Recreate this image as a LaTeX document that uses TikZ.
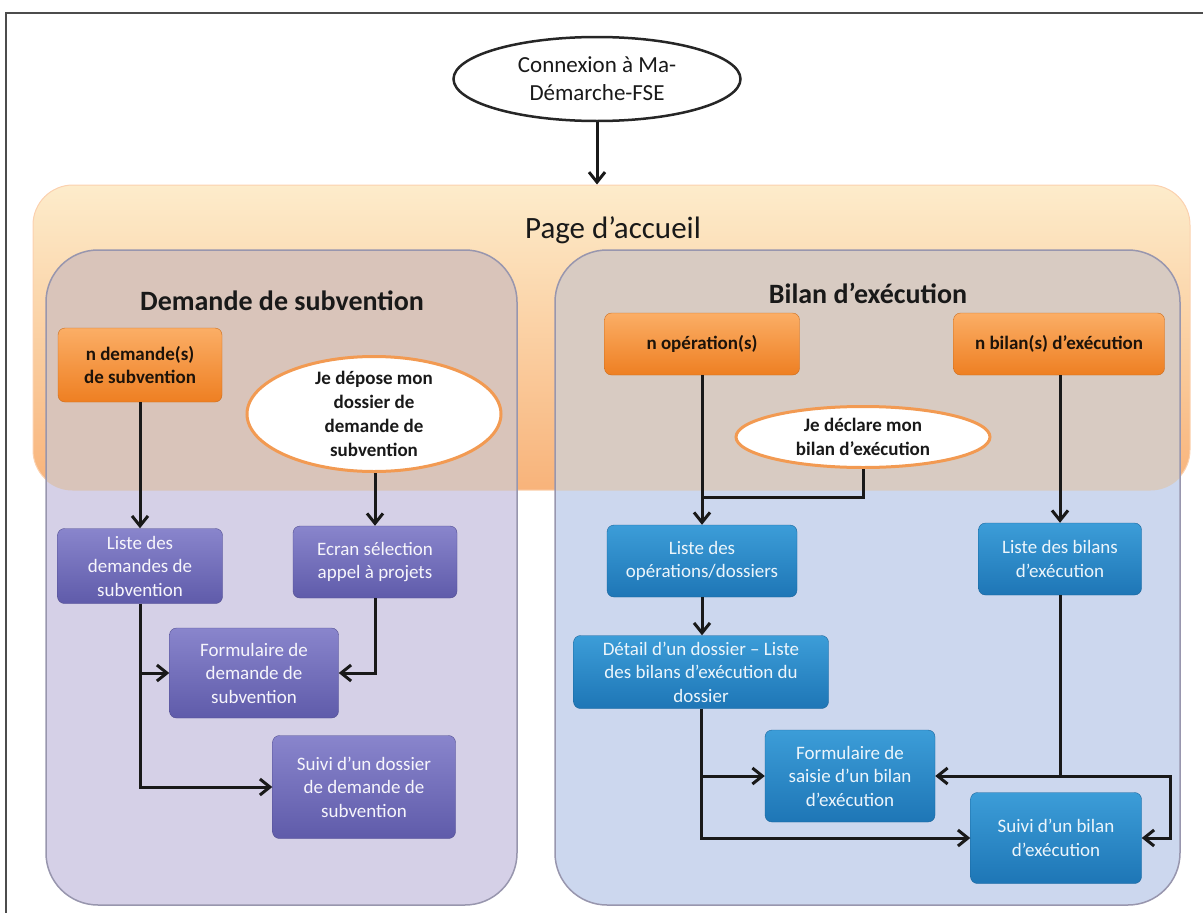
\documentclass[tikz,border=0pt]{standalone}
\usepackage{fontspec}
\setmainfont{Carlito}
\usetikzlibrary{shapes.geometric,arrows.meta}
\definecolor{accTop}{HTML}{FDECCB}
\definecolor{accBot}{HTML}{F8B37A}
\definecolor{demLow}{HTML}{D5D0E7}
\definecolor{demMix}{HTML}{D9C4BA}
\definecolor{bilLow}{HTML}{CCD7EE}
\definecolor{bilMix}{HTML}{D8CBC2}
\definecolor{orTop}{HTML}{FBAE66}
\definecolor{orBot}{HTML}{EE7F22}
\definecolor{puTop}{HTML}{8985CC}
\definecolor{puBot}{HTML}{5F5BAA}
\definecolor{blTop}{HTML}{3C9DD8}
\definecolor{blBot}{HTML}{1E76B6}
\definecolor{ovalLine}{HTML}{F29A52}
\definecolor{panelLine}{HTML}{9896AE}

\begin{document}
\begin{tikzpicture}[x=1pt,y=-1pt,
    box/.style={rectangle,rounded corners=7pt,align=center,inner sep=2pt,
      font=\fontsize{19pt}{23.5pt}\selectfont},
    orangebox/.style={box,top color=orTop,bottom color=orBot,draw=orBot!85!black,
      text=black!85!brown,font=\bfseries\fontsize{19pt}{23.5pt}\selectfont},
    purplebox/.style={box,top color=puTop,bottom color=puBot,draw=puBot!85!black,
      text=white!92!puTop},
    bluebox/.style={box,top color=blTop,bottom color=blBot,draw=blBot!85!black,
      text=white!90!blTop},
    whiteoval/.style={ellipse,fill=white,draw=ovalLine,line width=3pt,inner sep=0pt},
    ovaltext/.style={align=center,text=black!90,font=\bfseries\fontsize{19pt}{24pt}\selectfont},
    startoval/.style={ellipse,fill=white,draw=black!85,line width=2.5pt,inner sep=0pt},
    starttext/.style={align=center,text=black!90,font=\fontsize{23pt}{28pt}\selectfont},
    accueilbox/.style={rectangle,rounded corners=40pt,top color=accTop,bottom color=accBot,
      draw=accBot!60!white,line width=1pt},
    paneledge/.style={draw=panelLine,line width=1.5pt,rounded corners=52pt},
    title/.style={anchor=base,text=black!90,font=\bfseries\fontsize{28pt}{32pt}\selectfont},
    link/.style={draw=black!90,line width=3pt},
    flow/.style={link,-{Straight Barb[length=10pt,width=16pt]}}]
    \useasboundingbox (0,0) rectangle (1203,913);
    \draw[black!70,line width=1.5pt] (6,913) -- (6,13) -- (1203,13);

    \node[accueilbox,minimum width=1157pt,minimum height=305pt] (accueil) at (611.5,337.5) {};
    \fill[demLow,rounded corners=52pt] (46,250) rectangle (517,905);
    \fill[bilLow,rounded corners=52pt] (555,250) rectangle (1180,905);
    \begin{scope}
        \clip[rounded corners=40pt] (accueil.north west) rectangle (accueil.south east);
        \fill[demMix,rounded corners=52pt] (46,250) rectangle (517,905);
        \fill[bilMix,rounded corners=52pt] (555,250) rectangle (1180,905);
    \end{scope}
    \draw[paneledge] (46,250) rectangle (517,905);
    \draw[paneledge] (555,250) rectangle (1180,905);

    \node[anchor=base,text=black!90,font=\fontsize{31pt}{36pt}\selectfont] (accueiltitle) at (613,238) {Page d’accueil};
    \node[title] (demtitle) at (282,310) {Demande de subvention};
    \node[title] (biltitle) at (868,303) {Bilan d’exécution};

    \node[startoval,minimum width=287pt,minimum height=84pt,
      label={[starttext]center:{Connexion à Ma-\\Démarche-FSE}}] (connexion) at (597,79) {};

    \node[orangebox,minimum width=164pt,minimum height=74pt] (demandes) at (140,365) {n demande(s)\\de subvention};
    \node[whiteoval,minimum width=254pt,minimum height=115pt,
      label={[ovaltext]center:{Je dépose mon\\dossier de\\demande de\\subvention}}] (depose) at (374,414) {};
    \node[purplebox,minimum width=165pt,minimum height=75pt] (listedem) at (140,566) {Liste des\\demandes de\\subvention};
    \node[purplebox,minimum width=164pt,minimum height=72pt] (ecran) at (375,562) {Ecran sélection\\appel à projets};
    \node[purplebox,minimum width=169pt,minimum height=90pt] (formdem) at (254,673) {Formulaire de\\demande de\\subvention};
    \node[purplebox,minimum width=183pt,minimum height=103pt] (suividem) at (364,787) {Suivi d’un dossier\\de demande de\\subvention};

    \node[orangebox,minimum width=195pt,minimum height=62pt] (operations) at (702,344) {n opération(s)};
    \node[orangebox,minimum width=211pt,minimum height=62pt] (bilans) at (1059,344) {n bilan(s) d’exécution};
    \node[whiteoval,minimum width=254pt,minimum height=61pt,
      label={[ovaltext]center:{Je déclare mon\\bilan d’exécution}}] (declare) at (863,437) {};
    \node[bluebox,minimum width=190pt,minimum height=72pt] (listeop) at (702,561) {Liste des\\opérations/dossiers};
    \node[bluebox,minimum width=163pt,minimum height=72pt] (listebil) at (1060,559) {Liste des bilans\\d’exécution};
    \node[bluebox,minimum width=255pt,minimum height=73pt,inner sep=0pt] (detail) at (701,672) {Détail d’un dossier – Liste\\des bilans d’exécution du\\dossier};
    \node[bluebox,minimum width=170pt,minimum height=92pt] (formbil) at (850,776) {Formulaire de\\saisie d’un bilan\\d’exécution};
    \node[bluebox,minimum width=171pt,minimum height=91pt] (suivibil) at (1056,838) {Suivi d’un bilan\\d’exécution};

    \coordinate (merge) at (702,497);
    \coordinate (rightturn) at (1170,776);

    \draw[flow] (connexion.south) -- (connexion.south |- accueil.north);
    \draw[flow] (demandes) -- (listedem);
    \draw[flow] (ecran.north |- depose.south) -- (ecran.north);
    \draw[flow] (listedem.south) |- (suividem.west);
    \draw[flow] (listedem.south |- formdem.west) -- (formdem.west);
    \draw[flow] (ecran.south) |- (formdem.east);

    \draw[flow] (operations) -- (listeop);
    \draw[link] (declare.south) |- (merge);
    \draw[flow] (listeop.south) -- (listeop.south |- detail.north);
    \draw[flow] (detail.south) |- (suivibil.west);
    \draw[flow] (detail.south |- formbil.west) -- (formbil.west);
    \draw[flow] (listebil.north |- bilans.south) -- (listebil.north);
    \draw[flow] (listebil.south) |- (formbil.east);
    \draw[flow] (listebil.south |- formbil.east) -- (rightturn) |- (suivibil.east);
\end{tikzpicture}
\end{document}
